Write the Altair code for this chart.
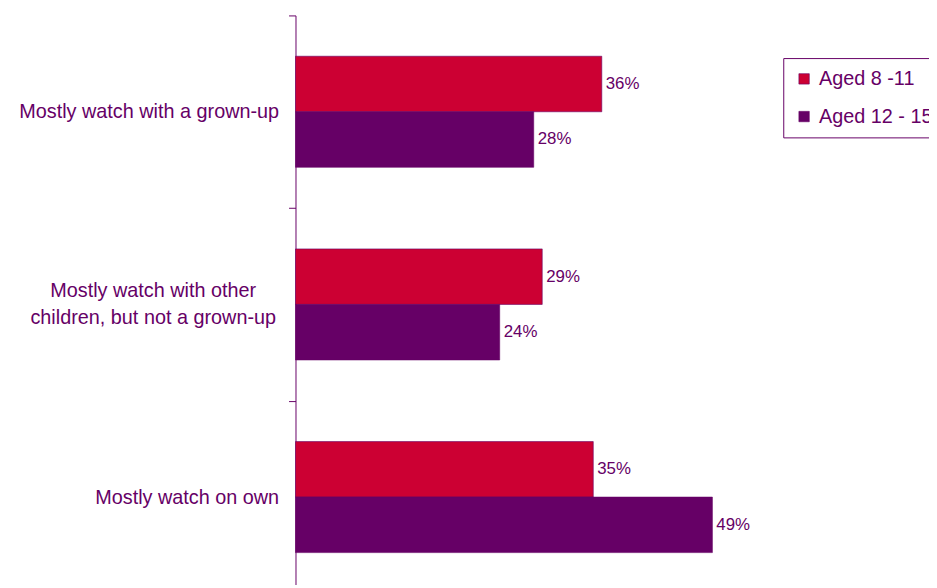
import altair as alt
import pandas as pd

categories = [
    "Mostly watch with a grown-up",
    "Mostly watch with other|children, but not a grown-up",
    "Mostly watch on own",
]
groups = ["Aged 8 -11", "Aged 12 - 15"]
aged_8_11 = [36, 29, 35]
aged_12_15 = [28, 24, 49]

rows = []
for c, a, b in zip(categories, aged_8_11, aged_12_15):
    rows.append({"cat": c, "group": groups[0], "value": a, "label": f"{a}%"})
    rows.append({"cat": c, "group": groups[1], "value": b, "label": f"{b}%"})
df = pd.DataFrame(rows)

RED = "#CC0033"
PURPLE = "#660066"
FONT = "Liberation Sans"

yscale = alt.Scale(range=[0, 583], paddingInner=0, paddingOuter=0)

# axis with the single-line labels, ticks and domain
y_main = alt.Y(
    "cat:N",
    sort=categories,
    title=None,
    scale=yscale,
    axis=alt.Axis(
        orient="left",
        labelExpr="indexof(datum.label, '|') >= 0 ? '' : datum.label",
        labelFontSize=20,
        labelColor=PURPLE,
        labelFont=FONT,
        labelPadding=10,
        labelLimit=400,
        tickBand="extent",
        tickSize=7,
        tickColor=PURPLE,
        domainColor=PURPLE,
        grid=False,
    ),
)
# axis carrying only the two-line label, centred as in the original
y_multi = alt.Y(
    "cat:N",
    sort=categories,
    title=None,
    scale=yscale,
    axis=alt.Axis(
        orient="left",
        labelExpr="indexof(datum.label, '|') >= 0 ? split(datum.label, '|') : ''",
        labelFontSize=20,
        labelColor=PURPLE,
        labelFont=FONT,
        labelAlign="center",
        labelPadding=137,
        labelOffset=-13,
        labelLineHeight=27,
        labelLimit=400,
        tickSize=7,
        tickOpacity=0,
        domain=False,
        grid=False,
    ),
)
yoff = alt.YOffset("group:N", sort=groups, scale=alt.Scale(paddingInner=0, paddingOuter=0.735))
x = alt.X("value:Q", scale=alt.Scale(domain=[0, 55]), axis=None)

bars = alt.Chart(df).mark_bar(stroke=PURPLE, strokeWidth=0.6, opacity=1).encode(
    x=x,
    y=y_main,
    yOffset=yoff,
    color=alt.Color(
        "group:N",
        sort=groups,
        scale=alt.Scale(domain=groups, range=[RED, PURPLE]),
        legend=alt.Legend(
            title=None,
            orient="none",
            legendX=492,
            legendY=43,
            symbolType="square",
            symbolSize=110,
            symbolStrokeColor=PURPLE,
            symbolStrokeWidth=0.6,
            labelFontSize=20,
            labelFont=FONT,
            labelColor=PURPLE,
            strokeColor=PURPLE,
            padding=11,
            rowPadding=18,
            labelOffset=5,
        ),
    ),
)

text = alt.Chart(df).mark_text(
    align="left", baseline="middle", dx=4, fontSize=17, font=FONT, color=PURPLE
).encode(x=x, y=y_multi, yOffset=yoff, text="label:N")

chart = (
    alt.layer(bars, text)
    .resolve_axis(y="independent")
    .properties(
        width=472,
        height=572,
        autosize=alt.AutoSizeParams(type="none"),
        padding={"left": 290, "top": 5, "right": 167, "bottom": 0},
    )
    .configure_view(stroke=None)
)

chart.save("out.html", embed_options={"renderer": "svg", "actions": False})
